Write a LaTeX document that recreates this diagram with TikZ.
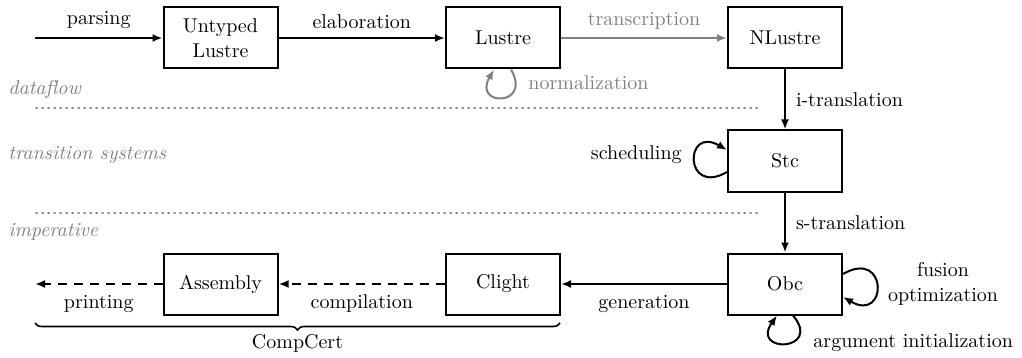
\documentclass[tikz,border=0pt]{standalone}
\usetikzlibrary{arrows.meta,decorations.pathreplacing}
\tikzset{
  box/.style={draw, line width=1pt, minimum width=57pt, minimum height=30.5pt, inner sep=1pt, align=center},
  conn/.style={line width=1pt, -{Latex[length=5pt,width=4pt]}},
  dconn/.style={conn, dash pattern=on 4.5pt off 3.5pt},
  gconn/.style={conn, draw=gray},
  lbl/.style={inner sep=0pt, align=center},
  glbl/.style={lbl, text=gray},
  layer/.style={inner sep=0pt, text=gray, font=\itshape, anchor=west},
  sep/.style={gray, line width=0.7pt, dash pattern=on 0.6pt off 2.4pt, line cap=round},
}
\begin{document}
\begin{tikzpicture}[x=0.5pt,y=-0.5pt, font=\fontsize{10}{12.5}\selectfont]
\useasboundingbox (0,0) rectangle (1022,358);
% boxes
\node[box] (ul) at (220.5,38) {Untyped\\Lustre};
\node[box] (lu) at (503,38) {Lustre};
\node[box] (nl) at (785,38) {NLustre};
\node[box] (stc) at (785,161) {Stc};
\node[box] (obc) at (785,284) {Obc};
\node[box] (cl) at (503,284) {Clight};
\node[box] (as) at (220.5,284) {Assembly};
% free ends
\coordinate (in) at (35,38);
\coordinate (out) at (35,284);
% layer labels
\node[layer] (df) at (8,90) {dataflow};
\node[layer] (ts) at (8,155) {transition systems};
\node[layer] (im) at (8,232) {imperative};
\coordinate (s1a) at (36,108);
\coordinate (s1b) at (760,108);
\coordinate (s2a) at (36,213);
\coordinate (s2b) at (760,213);
\draw[sep] (s1a) -- (s1b);
\draw[sep] (s2a) -- (s2b);
% connectors
\draw[conn] (in) -- (ul) node[lbl, midway, above=4pt] (lp) {parsing};
\draw[conn] (ul) -- (lu) node[lbl, midway, above=4pt] (le) {elaboration};
\draw[gconn] (lu) -- (nl) node[glbl, midway, above=4pt] (lt) {transcription};
\draw[conn] (nl) -- (stc) node[lbl, midway, right=5pt] (li) {i-translation};
\draw[conn] (stc) -- (obc) node[lbl, midway, right=5pt] (ls) {s-translation};
\draw[conn] (obc) -- (cl) node[lbl, midway, below=5pt] (lg) {generation};
\draw[dconn] (cl) -- (as) node[lbl, midway, below=5pt] (lc) {compilation};
\draw[dconn] (as) -- (out) node[lbl, midway, below=5pt] (lpr) {printing};
% loops
\draw[gconn] ([xshift=4pt]lu.south) to[out=-60,in=-120,looseness=6.5] ([xshift=-4.5pt]lu.south);
\node[glbl, anchor=west] (ln) at (528,83) {normalization};
\draw[conn] ([yshift=-5.5pt]stc.west) to[out=210,in=150,looseness=5.8] ([yshift=5.5pt]stc.west);
\node[lbl, anchor=east] (lsch) at (682,155) {scheduling};
\draw[conn] ([yshift=5pt]obc.east) to[out=30,in=-30,looseness=5.8] ([yshift=-6.5pt]obc.east);
\node[lbl] (lf) at (943,284) {fusion\\optimization};
\draw[conn] ([xshift=4pt]obc.south) to[out=-50,in=-125,looseness=7.5] ([xshift=-4pt]obc.south);
\node[lbl, anchor=west] (la) at (813,343) {argument initialization};
% brace
\coordinate (ba) at (35,323);
\coordinate (bb) at (560,323);
\draw[line width=0.8pt, decorate, decoration={brace, mirror, amplitude=3.5pt}] (ba) -- (bb);
\node[lbl] (cc) at (297.5,343) {CompCert};
\end{tikzpicture}
\end{document}
